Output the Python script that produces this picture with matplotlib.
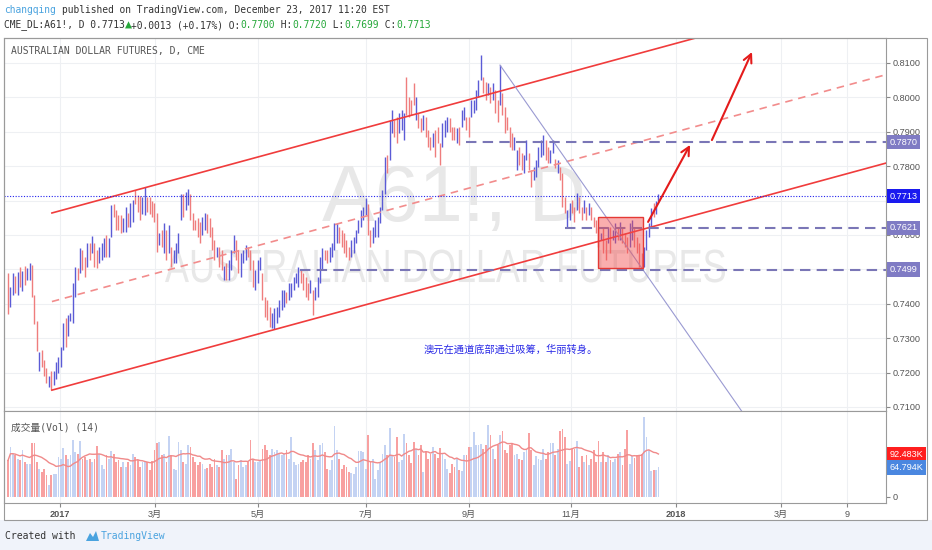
import matplotlib
matplotlib.use("Agg")
import matplotlib.pyplot as plt
import numpy as np
import pandas as pd
from matplotlib.patches import Rectangle, Polygon, PathPatch
from matplotlib.transforms import blended_transform_factory, Affine2D
from matplotlib.textpath import TextPath
from matplotlib.font_manager import FontProperties

plt.rcParams["font.family"] = ["Liberation Sans", "Noto Sans CJK SC", "DejaVu Sans"]
MONO = ["DejaVu Sans Mono", "Noto Sans CJK SC", "DejaVu Sans"]

# daily bars, price in pips (1e-4)
HIGH = [
    7490, 7450, 7490, 7480, 7492, 7508, 7495, 7510, 7505, 7520,
    7512, 7425, 7350, 7260, 7266, 7237, 7213, 7190, 7205, 7205,
    7230, 7245, 7275, 7345, 7360, 7367, 7373, 7460, 7507, 7504,
    7562, 7556, 7536, 7577, 7577, 7597, 7577, 7556, 7565, 7577,
    7592, 7600, 7590, 7687, 7690, 7673, 7658, 7658, 7650, 7680,
    7664, 7693, 7702, 7731, 7716, 7712, 7710, 7740, 7710, 7710,
    7700, 7693, 7664, 7606, 7615, 7635, 7615, 7630, 7565, 7556,
    7577, 7606, 7718, 7718, 7725, 7735, 7720, 7664, 7644, 7650,
    7638, 7652, 7664, 7660, 7650, 7623, 7585, 7565, 7565, 7556,
    7510, 7518, 7527, 7556, 7600, 7585, 7556, 7548, 7556, 7571,
    7565, 7556, 7527, 7498, 7527, 7536, 7490, 7420, 7411, 7390,
    7373, 7388, 7390, 7411, 7440, 7440, 7434, 7460, 7460, 7478,
    7490, 7507, 7498, 7490, 7478, 7460, 7469, 7440, 7449, 7478,
    7536, 7562, 7556, 7556, 7565, 7577, 7635, 7635, 7623, 7615,
    7606, 7585, 7565, 7585, 7594, 7615, 7644, 7673, 7681, 7708,
    7690, 7615, 7623, 7644, 7652, 7681, 7731, 7827, 7833, 7934,
    7963, 7934, 7943, 7955, 7963, 7955, 8060, 8001, 7992, 8042,
    8001, 7955, 7940, 7949, 7943, 7905, 7885, 7896, 7905, 7914,
    7867, 7925, 7934, 7943, 7940, 7914, 7914, 7911, 7914, 7963,
    7972, 7943, 7943, 7992, 7992, 8022, 8051, 8123, 8059, 8045,
    8042, 8030, 8042, 8022, 7992, 8094, 8013, 7972, 7943, 7914,
    7896, 7885, 7847, 7856, 7838, 7833, 7876, 7838, 7789, 7798,
    7818, 7856, 7876, 7891, 7876, 7856, 7847, 7876, 7820, 7818,
    7798, 7780, 7710, 7673, 7693, 7702, 7681, 7722, 7710, 7681,
    7702, 7681, 7693, 7681, 7652, 7644, 7623, 7606, 7623, 7585,
    7623, 7623, 7615, 7635, 7623, 7638, 7623, 7606, 7594, 7635,
    7644, 7623, 7594, 7577, 7548, 7565, 7615, 7635, 7678, 7693,
    7700, 7720,
]
LOW = [
    7370, 7392, 7425, 7432, 7425, 7450, 7436, 7455, 7470, 7468,
    7420, 7340, 7262, 7205, 7215, 7190, 7170, 7158, 7150, 7165,
    7180, 7200, 7215, 7265, 7275, 7305, 7350, 7345, 7420, 7469,
    7490, 7498, 7478, 7507, 7527, 7548, 7507, 7504, 7518, 7527,
    7536, 7536, 7536, 7594, 7652, 7615, 7615, 7606, 7608, 7610,
    7623, 7623, 7638, 7690, 7667, 7644, 7660, 7658, 7667, 7662,
    7652, 7638, 7550, 7571, 7565, 7548, 7527, 7548, 7507, 7518,
    7518, 7548, 7644, 7652, 7673, 7687, 7644, 7615, 7615, 7594,
    7577, 7600, 7615, 7606, 7594, 7556, 7527, 7536, 7507, 7498,
    7469, 7469, 7469, 7498, 7548, 7527, 7490, 7478, 7518, 7527,
    7536, 7498, 7449, 7440, 7460, 7498, 7411, 7362, 7353, 7333,
    7330, 7328, 7345, 7362, 7382, 7390, 7402, 7411, 7420, 7440,
    7460, 7449, 7460, 7440, 7420, 7411, 7431, 7367, 7411, 7420,
    7460, 7498, 7527, 7518, 7521, 7536, 7556, 7577, 7577, 7565,
    7548, 7536, 7527, 7536, 7548, 7577, 7606, 7623, 7644, 7658,
    7600, 7565, 7577, 7594, 7594, 7635, 7673, 7720, 7780, 7818,
    7896, 7885, 7867, 7896, 7905, 7876, 7950, 7943, 7949, 7978,
    7934, 7911, 7900, 7905, 7885, 7856, 7847, 7856, 7827, 7867,
    7803, 7856, 7885, 7900, 7900, 7876, 7876, 7867, 7862, 7914,
    7934, 7905, 7885, 7943, 7955, 7963, 8001, 8051, 8013, 7992,
    8007, 7984, 7992, 7955, 7928, 7978, 7949, 7896, 7905, 7856,
    7847, 7847, 7789, 7803, 7789, 7780, 7818, 7789, 7740, 7760,
    7769, 7798, 7827, 7833, 7818, 7809, 7809, 7838, 7795, 7780,
    7760, 7682, 7664, 7623, 7644, 7664, 7638, 7673, 7664, 7644,
    7664, 7644, 7658, 7644, 7623, 7606, 7565, 7585, 7548, 7527,
    7577, 7548, 7585, 7577, 7585, 7585, 7577, 7565, 7548, 7565,
    7585, 7565, 7548, 7507, 7504, 7507, 7556, 7594, 7623, 7652,
    7660, 7699,
]
# u = up bar (blue), d = down bar (red)
DIR = "".join([
    "duudududuu", "dddudddudu", "uuuuduuuud", "uddududduu", "uduudddduu",
    "duuddduudd", "dddudududu", "uuuduudddd", "duuddddudd", "uduuudduuu",
    "ddduuudddd", "uuuuuuduuu", "uudddduduu", "uudduuuudd", "ddduuuuuuu",
    "dduuuuuudu", "udduuudddd", "uddudddudd", "duuudddudu", "udduuuuudd",
    "ududdudddd", "duudduuddu", "uuuudduudu", "ddduuddudd", "ududdddudd",
    "uduududddu", "udddduuuud", "uu",
])
# volume in thousands of contracts
VOL_K = [
    80, 109, 95, 91, 84, 80, 102, 77, 73, 73,
    119, 117, 77, 62, 55, 62, 47, 26, 47, 51,
    51, 87, 84, 107, 91, 84, 91, 124, 98, 95,
    122, 84, 87, 80, 84, 77, 84, 112, 95, 69,
    62, 91, 84, 100, 95, 77, 80, 66, 77, 66,
    77, 69, 93, 87, 80, 66, 77, 78, 77, 58,
    78, 102, 119, 120, 91, 95, 77, 133, 91, 62,
    58, 120, 102, 77, 73, 113, 109, 87, 77, 69,
    77, 73, 62, 63, 73, 66, 84, 69, 66, 102,
    84, 91, 91, 106, 77, 40, 69, 80, 66, 69,
    77, 125, 84, 77, 77, 80, 106, 113, 102, 91,
    106, 98, 102, 95, 91, 95, 102, 84, 131, 77,
    69, 73, 77, 80, 77, 91, 84, 117, 102, 80,
    113, 117, 98, 62,
    58, 80, 155, 102, 84, 62, 69, 66, 55, 53,
    51, 66, 100, 100, 98, 62, 135, 77, 84, 40,
    58, 77, 95, 113, 91, 151, 91, 87, 131, 77,
    80, 138, 119, 91, 75, 120, 106, 91, 113, 55,
    100, 84, 95, 109, 95, 85, 107, 95, 84, 62,
    53, 73, 66, 84, 58, 56, 91, 91, 109, 109,
    141, 113, 113, 116, 106, 113, 158, 135, 104, 84,
    113, 135, 145, 102, 97, 113, 117, 91, 93, 84,
    80, 98, 106, 139, 102, 69, 90, 82, 80, 106,
    84, 98, 117, 117, 91, 106, 144, 148, 131, 73,
    78, 104, 106, 122, 66, 90, 77, 91, 71, 84,
    102, 77, 122, 77, 98, 77, 91, 80, 77, 84,
    93, 98, 69, 104, 146, 73, 90, 85, 91, 91,
    95, 175, 131, 102, 56, 58, 58, 65,
]

PRICE_TICKS = [0.71, 0.72, 0.73, 0.74, 0.75, 0.76, 0.77, 0.78, 0.79, 0.80, 0.81]
HIDDEN_TICKS = [0.75, 0.77]   # covered by the price tags
TIME_TICKS = [21.7, 61.25, 104.2, 149.2, 192.1, 234.6, 278.3, 322.1, 349.6]
TIME_LABELS = ["2017", "3月", "5月", "7月", "9月", "11月", "2018", "3月", "9"]

# drawings (bar index, price)
UPPER_CH = ([18.3, 288.3], [0.7664, 0.8176])
LOWER_CH = ([18.3, 365.8], [0.7149, 0.7809])
MID_CH = ([18.3, 365.8], [0.74065, 0.8066])
DOWN_TREND = ([205.0, 310.0], [0.8094, 0.7045])
LEVELS = [0.7870, 0.7621, 0.7499]
LEVEL_START = [191.0, 232.0, 121.7]
LAST_PRICE = 0.7713
BOX = (245.8, 264.6, 0.7504, 0.7652)
ARROWS = [((266.7, 0.7638), (284.2, 0.7862)), ((293.3, 0.7876), (310.0, 0.8132))]
MA_LAST, VOL_LAST = 92483, 64794

W, H = 932, 550


def fx(px):
    return px / W


def fy(py):
    return 1 - py / H


def stretched_text(a, text, cx, cy, w_px, h_px, color, zorder=1):
    """Draw text squeezed into a w_px x h_px box centred at pixel (cx, cy)."""
    tp = TextPath((0, 0), text, size=1, prop=FontProperties(family="Liberation Sans"))
    bb = tp.get_extents()
    tr = (Affine2D().translate(-bb.x0 - bb.width / 2, -bb.y0 - bb.height / 2)
          .scale(w_px / W / bb.width, h_px / H / bb.height)
          .translate(fx(cx), fy(cy)) + a.figure.transFigure)
    a.add_patch(PathPatch(tp, transform=tr, fc=color, ec="none", zorder=zorder))


n = min(len(HIGH), len(LOW), len(DIR), len(VOL_K))
x = np.arange(n)
high = np.array(HIGH[:n]) * 1e-4
low = np.array(LOW[:n]) * 1e-4
up = np.array([c == "u" for c in DIR[:n]])
vol = np.array(VOL_K[:n]) * 1000.0
ma = pd.Series(vol).rolling(14, min_periods=1).mean().values

fig = plt.figure(figsize=(W / 100, H / 100), dpi=100)
fig.add_artist(Rectangle((0, 0), 1, fy(520), transform=fig.transFigure,
                         fc="#f0f3fa", ec="none", zorder=0))
fig.add_artist(Rectangle((fx(4), fy(520)), fx(927) - fx(4), fy(38) - fy(520),
                         transform=fig.transFigure, fill=False, ec="#9a9a9a", lw=0.8))

ax = fig.add_axes([fx(4), fy(411), fx(886) - fx(4), fy(38) - fy(411)])
axv = fig.add_axes([fx(4), fy(503), fx(886) - fx(4), fy(411) - fy(503)])

XLIM = (-1.667, 365.83)
for a in (ax, axv):
    a.set_xlim(*XLIM)
    a.set_xticks(TIME_TICKS)
    a.set_axisbelow(True)
    for s in a.spines.values():
        s.set_color("#9a9a9a")
        s.set_linewidth(0.8)

ax.set_ylim(0.708837, 0.817267)
ax.set_yticks(PRICE_TICKS)
ax.set_yticklabels(["" if any(abs(p - h) < 1e-9 for h in HIDDEN_TICKS) else f"{p:.4f}"
                    for p in PRICE_TICKS])
ax.yaxis.tick_right()
ax.tick_params(axis="x", length=0, labelbottom=False)
ax.tick_params(axis="y", direction="out", length=3, color="#888888",
               labelsize=6.6, labelcolor="#555555", pad=2)
ax.grid(True, color="#eef0f3", lw=0.8)

# watermark
ax.text(186.0, 0.7700, "A61!, D", fontsize=57, color="#e8e8e8", ha="center",
        va="center", zorder=1, family=["Liberation Sans"])
stretched_text(ax, "AUSTRALIAN DOLLAR FUTURES", 445, 266, 560, 33, "#e8e8e8")

# price bars
ax.vlines(x[up], low[up], high[up], color="#5b5bd6", lw=1.0, zorder=3)
ax.vlines(x[~up], low[~up], high[~up], color="#ef7d7d", lw=1.0, zorder=3)

# channel
ax.plot(*UPPER_CH, color="#f03c3c", lw=1.2, zorder=4)
ax.plot(*LOWER_CH, color="#f03c3c", lw=1.2, zorder=4)
ax.plot(*MID_CH, color="#f28c8c", lw=1.2, ls=(0, (4.5, 3.5)), zorder=4)
ax.plot(*DOWN_TREND, color="#9a9ad2", lw=0.8, zorder=4)

for lvl, x0 in zip(LEVELS, LEVEL_START):
    ax.plot([x0, XLIM[1]], [lvl, lvl], color="#7a76b6", lw=1.5,
            ls=(0, (5, 3)), zorder=4, solid_capstyle="butt")
ax.axhline(LAST_PRICE, color="#2323ee", lw=0.8, ls=(0, (1, 1.5)), zorder=4)

bx0, bx1, by0, by1 = BOX
ax.add_patch(Rectangle((bx0, by0), bx1 - bx0, by1 - by0, fc=(0.95, 0.3, 0.3, 0.45),
                       ec="#e53935", lw=1.0, zorder=5))

for start, end in ARROWS:
    ax.annotate("", xy=end, xytext=start, zorder=6,
                arrowprops=dict(arrowstyle="->,head_length=0.6,head_width=0.3",
                                color="#e41b1b", lw=1.5, shrinkA=0, shrinkB=0))

ax.text(209.6, 0.72657, "澳元在通道底部通过吸筹，华丽转身。", fontsize=7.4,
        color="#2a2ae6", ha="center", va="center", zorder=6,
        family=["Noto Sans CJK SC", "DejaVu Sans"])

# price tags on the axis
tag_tr = blended_transform_factory(ax.transAxes, ax.transData)


def price_tag(a, tr, y, text, bg):
    a.text(1.004, y, text, transform=tr, ha="left", va="center", fontsize=6.6,
           color="white", clip_on=False, zorder=10,
           bbox=dict(boxstyle="square,pad=0.3", fc=bg, ec="none"))


for lvl in LEVELS:
    price_tag(ax, tag_tr, lvl, f"{lvl:.4f}", "#7f7bc4")
price_tag(ax, tag_tr, LAST_PRICE, f"{LAST_PRICE:.4f}", "#1a1aef")

# volume panel
axv.set_ylim(-13116, 187996)
axv.bar(x, vol, width=0.75, color=np.where(up, "#c4d3f3", "#f8a0a0"), zorder=2)
axv.plot(x, ma, color="#f08a8a", lw=1.0, zorder=3)
axv.yaxis.tick_right()
axv.set_yticks([0])
axv.set_yticklabels(["0"])
axv.tick_params(axis="y", direction="out", length=3, color="#888888",
                labelsize=6.6, labelcolor="#555555", pad=2)
axv.set_xticklabels(TIME_LABELS)
axv.tick_params(axis="x", direction="out", length=3, color="#888888",
                labelsize=6.6, labelcolor="#555555", pad=2)
for lab in axv.get_xticklabels():
    if lab.get_text() in ("2017", "2018"):
        lab.set_fontweight("bold")
axv.grid(True, axis="x", color="#eef0f3", lw=0.8)
vtr = blended_transform_factory(axv.transAxes, axv.transData)
price_tag(axv, vtr, MA_LAST, "92.483K", "#ff1f1f")
price_tag(axv, vtr, VOL_LAST, "64.794K", "#4a87e0")
fig.text(fx(11), fy(427), "成交量(Vol) (14)", fontsize=7, color="#555555",
         va="center", family=MONO)

# header
fig.text(fx(4), fy(10), "changqing", fontsize=6.9, color="#4aa3df",
         va="center", family=MONO)
cw = 0.602 * 6.9 * 100 / 72
fig.text(fx(4 + 10 * cw), fy(10), "published on TradingView.com, December 23, 2017 11:20 EST",
         fontsize=6.9, color="#333333", va="center", family=MONO)
segs = [(0, "CME_DL:A61!, D 0.7713", "#333333"), (21, "▲", "#26a83a"),
        (22, "+0.0013 (+0.17%) O:", "#333333"), (41, "0.7700", "#26a83a"),
        (47, " H:", "#333333"), (50, "0.7720", "#26a83a"),
        (56, " L:", "#333333"), (59, "0.7699", "#26a83a"),
        (65, " C:", "#333333"), (68, "0.7713", "#26a83a")]
for off, txt, col in segs:
    fig.text(fx(4 + off * cw), fy(25), txt, fontsize=8.5 if txt == "▲" else 6.9,
             color=col, va="center", family=MONO)
fig.text(fx(11), fy(51), "AUSTRALIAN DOLLAR FUTURES, D, CME", fontsize=7.0,
         color="#555555", va="center", family=MONO)

# footer
fig.text(fx(5), fy(536), "Created with", fontsize=7, color="#333333",
         va="center", family=MONO)
fig.add_artist(Polygon([(fx(86), fy(541)), (fx(90), fy(533)), (fx(93), fy(537)),
                        (fx(96), fy(531)), (fx(99), fy(541))],
                       closed=True, transform=fig.transFigure, fc="#4aa3df", ec="none"))
fig.text(fx(101), fy(536), "TradingView", fontsize=7, color="#4aa3df",
         va="center", family=MONO)

fig.savefig("out.png", dpi=100)
